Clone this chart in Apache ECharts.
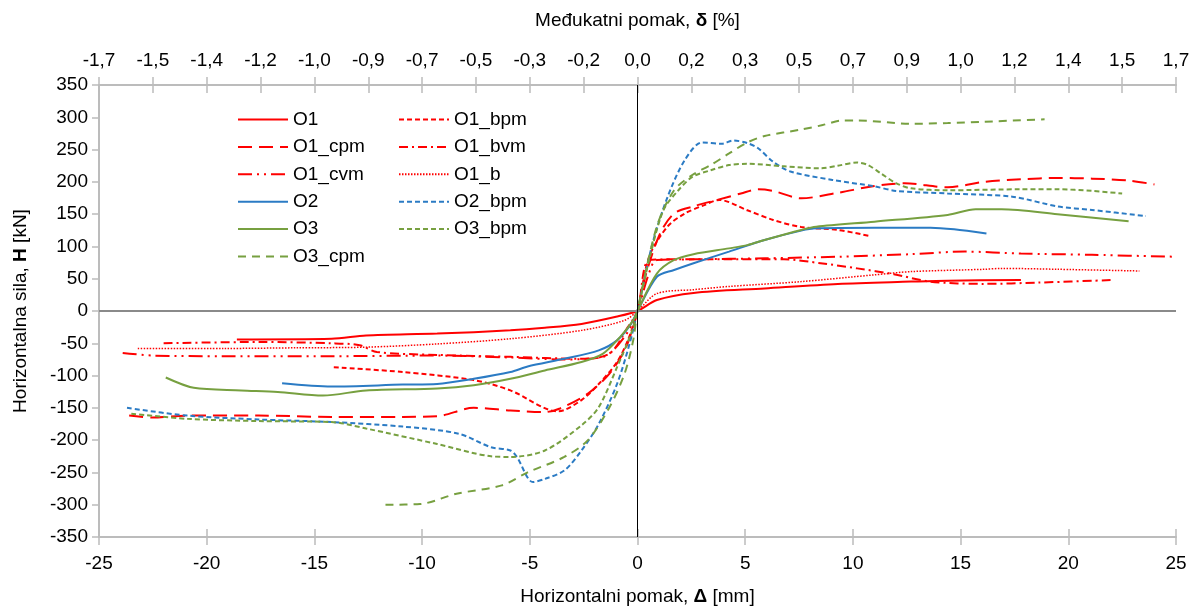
<!DOCTYPE html>
<html>
<head>
<meta charset="utf-8">
<title>H - Δ</title>
<script src="https://cdn.jsdelivr.net/npm/echarts@6/dist/echarts.min.js"></script>
<style>
    html, body { margin: 0; padding: 0; background: #fff; }
    #main { width: 1190px; height: 606px; }
</style>
</head>
<body>
<div id="main"></div>
<script>
// pomak [mm] , sila [kN]
var O1 = [[-18.6,-44],[-14.2,-43],[-12.6,-38],[-9.3,-35],[-5.9,-30],[-4.3,-26],[-2.6,-20],[-1,-9],[0,0],
    [0.9,17],[2.6,28],[5.9,35],[9.3,42],[12.7,45.5],[14.4,47],[17.8,48]];
var O1_cpm = [[-23.6,-162],[-22.5,-165],[-20.9,-162],[-17.6,-162],[-14.2,-164],[-10.9,-164],[-9.3,-163],[-7.6,-150],
    [-5.9,-154],[-4.3,-156.5],[-3.6,-151],[-2.3,-128],[-1.3,-97],[-0.6,-61],[-0.2,-25],[0,0],
    [0.4,58],[1.05,120],[1.7,151],[2.6,162],[3.7,172],[4.8,182],[5.6,188.5],[6.3,186],[7.6,174.5],[9.3,183],
    [11,193.6],[12.4,197.7],[14.4,191.6],[16.1,200],[17.8,204],[19.5,206],[21.1,205],[22.8,202],[24,196]];
var O1_cvm = [[-23.9,-65],[-22.5,-69],[-19.2,-70],[-14.2,-70],[-9.3,-69],[-5.9,-72],[-3.4,-75],[-1.6,-71],[-0.6,-40],[0,0],
    [0.5,55],[0.9,79],[2.6,80],[5.9,81.6],[9.3,84],[12.7,88],[15.2,92],[17.8,89],[21.1,87],[25,84]];
var O1_bpm = [[-14.1,-87],[-10.9,-94.5],[-7.6,-107],[-5.9,-123],[-3.7,-155.5],[-2.6,-138],[-1.8,-113],[-0.95,-79],[-0.45,-45.5],[0,0],
    [0.54,84],[1.4,131],[2.2,151],[3.1,164],[3.8,172],[5.1,156],[6.3,141],[7.6,130],[9.3,125.5],[10.8,116]];
var O1_bvm = [[-22,-50],[-17.6,-48],[-14.2,-50],[-12.9,-53],[-12.1,-63.5],[-9.3,-68],[-5.9,-71],[-2.6,-74],[-1.3,-66],[-0.45,-25],[0,0],
    [0.54,79],[1.7,80],[4.25,80],[6.8,80],[8.5,74],[10.2,66],[11.9,57],[13.6,45.5],[16.1,42],[18.6,44],[22.1,48]];
var O1_b = [[-23.2,-58],[-19.2,-58],[-15.9,-57],[-12.6,-56],[-9.3,-51],[-5.9,-43],[-2.6,-30],[-0.6,-14.5],[0,0],
    [0.9,27],[2.6,33],[4.25,38],[7.6,45.5],[11,56],[12.7,61],[16.1,64.6],[16.9,66],[19.5,64.6],[23.3,62]];
var O2 = [[-16.5,-112],[-14.2,-117],[-10.9,-114],[-9.3,-113],[-7.6,-105],[-5.9,-94.5],[-5.1,-86],[-3.4,-74],[-1.8,-61],[-0.95,-45.5],[-0.3,-20],[0,0],
    [0.9,53],[1.7,63.5],[2.6,74],[4.25,92],[5.9,110],[7.6,124.5],[8.3,128],[11,129],[13.6,129],[14.7,126.5],[16.2,120]];
var O2_bpm = [[-23.7,-150],[-20.9,-162],[-17.6,-168],[-14.2,-172],[-10.9,-179],[-8.3,-190],[-6.8,-211],[-5.9,-216],[-5.6,-226],[-4.85,-265],
    [-4.3,-260],[-3.4,-247],[-2.6,-216],[-1.8,-175],[-0.95,-113],[-0.37,-51],[0,0],
    [0.7,105],[1.4,177],[2.2,234],[3,261],[3.9,259],[4.45,264],[5.1,260],[5.6,252],[6.3,231],[7.1,216],[9.05,203],[11,193],[12,186],
    [14.4,182],[17.4,177],[19.5,162],[21.1,156.5],[23.6,147]];
var O3 = [[-21.9,-103],[-20.6,-119],[-18.4,-123],[-16.7,-125.5],[-14.6,-131],[-12.6,-123],[-9.3,-120],[-7.6,-115],[-5.9,-105],[-4.3,-92],
    [-2.6,-79],[-1.6,-66],[-0.8,-40],[-0.2,-14.5],[0,0],
    [0.9,58],[1.7,79],[2.6,88],[4.25,97],[5.1,102],[5.9,110],[7.6,125.5],[8.3,130.6],[11,138.4],[14.4,148.7],[15.7,157.5],[16.9,157.5],[19.5,150],[22.8,139]];
var O3_bpm = [[-23.5,-159],[-20.9,-167],[-17.6,-170.5],[-14.2,-172],[-12.6,-182],[-9.3,-206],[-6.8,-225],[-5.9,-226],[-4.3,-216],[-2.6,-177],
    [-1.8,-149],[-0.95,-87],[-0.3,-35],[0,0],
    [0.54,79],[1.2,156],[1.9,187],[2.56,208],[3.4,218],[4.25,226],[5.1,228],[6.8,224],[8.5,221],[9.3,225],[10.2,230],[10.7,226],[11.3,213],
    [12,198],[12.7,190],[14.4,187],[17.8,188.5],[19.5,188.5],[21.1,186],[22.5,182]];
var O3_cpm = [[-11.7,-300],[-10.1,-299],[-8.4,-283],[-6.3,-270],[-5.1,-250],[-3.4,-226],[-2.3,-200],[-1.3,-149],[-0.6,-97],[-0.2,-45.5],[0,0],
    [0.9,131],[1.7,187],[2.56,211],[3.4,226],[4.25,244],[5.1,261],[5.9,271],[7.6,281],[8.6,288],[9.5,295],[10.2,295],[12.7,290],[14.4,291],[16.1,293],[18.9,297]];

// gornja os - medjukatni pomak [%]
var topLabels = ['-1,7','-1,5','-1,4','-1,2','-1,0','-0,9','-0,7','-0,5','-0,3','-0,2','0,0',
    '0,2','0,3','0,5','0,7','0,9','1,0','1,2','1,4','1,5','1,7'];

var legendLeft = ['O1', 'O1_cpm', 'O1_cvm', 'O2', 'O3', 'O3_cpm'];
var legendRight = ['O1_bpm', 'O1_bvm', 'O1_b', 'O2_bpm', 'O3_bpm'];

var RED = '#ff0000', BLUE = '#2b7bc4', GREEN = '#77a040';
var FONT = '"Liberation Sans", Arial, sans-serif';
var AXIS = '#bcbcbc';

function line(name, data, color, type, width) {
    return {
        name: name,
        type: 'line',
        data: data,
        smooth: 0.3,
        symbol: 'none',
        xAxisIndex: 0,
        yAxisIndex: 0,
        lineStyle: { color: color, width: width || 2, type: type },
        itemStyle: { color: color }
    }
}

var series = [
    line('O1', O1, RED, 'solid'),
    line('O1_cpm', O1_cpm, RED, [14, 7]),
    line('O1_cvm', O1_cvm, RED, [14, 5, 2, 5, 2, 5]),
    line('O1_bpm', O1_bpm, RED, [5, 3]),
    line('O1_bvm', O1_bvm, RED, [9, 4, 2, 4]),
    line('O1_b', O1_b, RED, [1.5, 1.5], 1.5),
    line('O2', O2, BLUE, 'solid'),
    line('O2_bpm', O2_bpm, BLUE, [5, 3]),
    line('O3', O3, GREEN, 'solid'),
    line('O3_bpm', O3_bpm, GREEN, [5, 3]),
    line('O3_cpm', O3_cpm, GREEN, [8, 6])
];

// nul linije
series[0].markLine = {
    silent: true,
    symbol: 'none',
    label: { show: false },
    data: [
        { yAxis: 0, lineStyle: { color: '#8a8a8a', width: 2, type: 'solid' } },
        { xAxis: 0, lineStyle: { color: '#000', width: 1, type: 'solid' } }
    ]
};

function legend(left, data) {
    return {
        left: left,
        top: 110,
        orient: 'vertical',
        padding: 0,
        itemWidth: 50,
        itemHeight: 14,
        itemGap: 8.4,
        data: data,
        itemStyle: { opacity: 0 },
        textStyle: { fontFamily: FONT, fontSize: 19, color: '#000' }
    }
}

var rich = { b: { fontFamily: FONT, fontSize: 19, fontWeight: 'bold', color: '#000' } };

var option = {
    backgroundColor: '#fff',
    animation: false,
    grid: { left: 99, right: 14, top: 85, bottom: 69, containLabel: false, outerBoundsMode: 'none' },
    legend: [legend(237, legendLeft), legend(398, legendRight)],
    xAxis: [
        {
            type: 'value', position: 'bottom', min: -25, max: 25, interval: 5,
            name: 'Horizontalni pomak, {b|Δ} [mm]', nameLocation: 'middle', nameGap: 50,
            nameTextStyle: { fontFamily: FONT, fontSize: 19, color: '#000', rich: rich },
            axisLine: { onZero: false, lineStyle: { color: AXIS, width: 2 } },
            axisTick: { length: 8, lineStyle: { color: AXIS, width: 1.5 } },
            axisLabel: { margin: 17, fontFamily: FONT, fontSize: 19, color: '#000' },
            splitLine: { show: false }
        },
        {
            type: 'value', position: 'top', min: -25, max: 25, interval: 2.5,
            name: 'Međukatni pomak, {b|δ} [%]', nameLocation: 'middle', nameGap: 55,
            nameTextStyle: { fontFamily: FONT, fontSize: 19, color: '#000', rich: rich },
            axisLine: { onZero: false, lineStyle: { color: AXIS, width: 2 } },
            axisTick: { length: 8, lineStyle: { color: AXIS, width: 1.5 } },
            axisLabel: {
                margin: 15, fontFamily: FONT, fontSize: 19, color: '#000',
                formatter: function (v) { return topLabels[Math.round((v + 25) / 2.5)] }
            },
            splitLine: { show: false }
        },
        // unutarnji dio crtica
        {
            type: 'value', position: 'bottom', min: -25, max: 25, interval: 5,
            axisLine: { show: false, onZero: false },
            axisTick: { inside: true, length: 8, lineStyle: { color: AXIS, width: 1.5 } },
            axisLabel: { show: false }, splitLine: { show: false }
        },
        {
            type: 'value', position: 'top', min: -25, max: 25, interval: 2.5,
            axisLine: { show: false, onZero: false },
            axisTick: { inside: true, length: 8, lineStyle: { color: AXIS, width: 1.5 } },
            axisLabel: { show: false }, splitLine: { show: false }
        }
    ],
    yAxis: [
        {
            type: 'value', min: -350, max: 350, interval: 50,
            name: 'Horizontalna sila, {b|H} [kN]', nameLocation: 'middle', nameGap: 69, nameRotate: 90,
            nameTextStyle: { fontFamily: FONT, fontSize: 19, color: '#000', rich: rich },
            axisLine: { show: true, onZero: false, lineStyle: { color: AXIS, width: 2 } },
            axisTick: { show: true, length: 7, lineStyle: { color: AXIS, width: 1.5 } },
            axisLabel: { margin: 11, fontFamily: FONT, fontSize: 19, color: '#000' },
            splitLine: { show: false }
        }
    ],
    series: series
};

var myChart = echarts.init(document.getElementById('main'), null, { renderer: 'canvas' });
myChart.setOption(option);
</script>
</body>
</html>
